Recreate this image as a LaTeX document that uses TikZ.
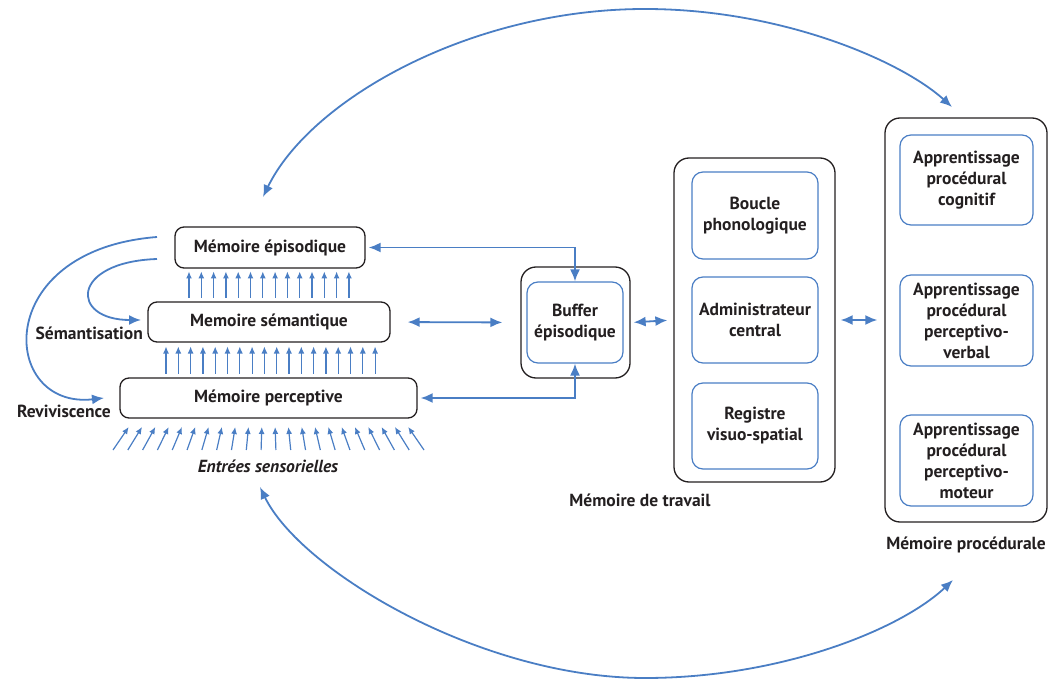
\documentclass[tikz,border=0pt]{standalone}
\usepackage{fontspec}
\setmainfont{PT Sans}
\usetikzlibrary{arrows.meta}
\definecolor{bl}{RGB}{74,126,196}
\definecolor{tx}{RGB}{35,31,32}
\begin{document}
\begin{tikzpicture}[x=1pt,y=-1pt,
  every node/.style={text=tx,font=\fontsize{17.5}{21}\selectfont\bfseries},
  membox/.style={draw=tx,line width=1.3pt,rounded corners=9pt,minimum height=40pt,inner sep=0pt},
  outerbox/.style={draw=tx,line width=1.3pt,rounded corners=15pt,inner sep=0pt},
  innerbox/.style={draw=bl,line width=1.2pt,rounded corners=11pt,inner sep=0pt,align=center},
  lbl/.style={inner sep=0pt},
  biarrow/.style={draw=bl,line width=1.8pt,{Latex[length=12pt,width=10pt]}-{Latex[length=12pt,width=10pt]}},
  onearrow/.style={draw=bl,line width=1.8pt,-{Latex[length=12pt,width=10pt]}},
  small/.style={draw=bl,line width=1.2pt,-{Latex[length=7pt,width=6pt]}}
]
\useasboundingbox (0,0) rectangle (1053,679);

% memory boxes
\node[membox,minimum width=190pt,minimum height=41pt] (epi) at (270,247.5) {Mémoire épisodique};
\node[membox,minimum width=242pt] (sem) at (269,322) {Memoire sémantique};
\node[membox,minimum width=297pt] (perc) at (268.5,398) {Mémoire perceptive};

% labels left
\node[lbl,anchor=east] (lsem) at (143,333) {Sémantisation};
\node[lbl,anchor=east] (lrev) at (111,411) {Reviviscence};
\node[lbl,font=\fontsize{17.5}{21}\selectfont\bfseries\itshape] (lent) at (268,466) {Entrées sensorielles};

% buffer
\node[outerbox,minimum width=109pt,minimum height=111pt] (buffer) at (575.5,322.5) {};
\node[innerbox,minimum width=96pt,minimum height=81pt] (bufin) at (575,322.5) {Buffer\\épisodique};

% working memory
\node[outerbox,minimum width=161pt,minimum height=324pt] (wm) at (754.5,320) {};
\node[innerbox,minimum width=126pt,minimum height=87pt] (boucle) at (755,215.5) {Boucle\\phonologique};
\node[innerbox,minimum width=126pt,minimum height=86pt] (admin) at (755,320) {Administrateur\\central};
\node[innerbox,minimum width=126pt,minimum height=86pt] (reg) at (755,426) {Registre\\visuo-spatial};
\node[lbl] (lwm) at (640,500) {Mémoire de travail};

% procedural memory
\node[outerbox,minimum width=162pt,minimum height=404pt] (pm) at (966,320) {};
\node[innerbox,minimum width=133pt,minimum height=90pt] (pc1) at (966.5,180) {Apprentissage\\procédural\\cognitif};
\node[innerbox,minimum width=133pt,minimum height=91pt] (pc2) at (966.5,320.5) {Apprentissage\\procédural\\perceptivo-\\verbal};
\node[innerbox,minimum width=133pt,minimum height=91pt] (pc3) at (966.5,460.5) {Apprentissage\\procédural\\perceptivo-\\moteur};
\node[lbl] (lpm) at (966,545) {Mémoire procédurale};

% small up arrows
\foreach \i in {0,...,13} {\draw[small] ({189+\i*12.3},298) -- ({189+\i*12.3},271.5);}
\foreach \i in {0,...,17} {\draw[small] ({166+\i*12.3},373.5) -- ({166+\i*12.3},346.5);}
\foreach \i in {0,...,21} {
  \pgfmathsetmacro\bx{113+\i*14.81}
  \pgfmathsetmacro\tx{\bx+(268-\bx)*23/227}
  \draw[small] (\bx,450) -- (\tx,427);}

% connectors to buffer
\draw[biarrow,shorten <=3pt] (epi.east) -| (bufin.north);
\draw[biarrow,shorten <=3pt] (perc.east) -| (bufin.south);
\draw[biarrow,shorten <=17pt,shorten >=18pt] (sem.east) -- (buffer.west);
\draw[biarrow,shorten <=3pt,shorten >=6pt] (buffer.east) -- (wm.west);
\draw[biarrow,shorten <=5pt,shorten >=7pt] (wm.east) -- (pm.west);

% left curves
\coordinate (s1) at (157,259);
\coordinate (s2) at (141,320);
\coordinate (r1) at (157,237);
\coordinate (r2) at (104,398);
\draw[onearrow] (s1) .. controls (70,262) and (70,320) .. (s2);
\draw[onearrow] (r1) .. controls (-10,250) and (0,410) .. (r2);

% big arcs
\coordinate (ta) at (263,197);
\coordinate (tm) at (645,9);
\coordinate (tb) at (952,107);
\coordinate (ba) at (260,487);
\coordinate (bm) at (645,678);
\coordinate (bb) at (953,580);
\draw[biarrow] (ta) .. controls (310,100) and (470,9) .. (tm) .. controls (780,9) and (900,60) .. (tb);
\draw[biarrow] (ba) .. controls (300,570) and (480,678) .. (bm) .. controls (780,678) and (900,630) .. (bb);
\end{tikzpicture}
\end{document}
